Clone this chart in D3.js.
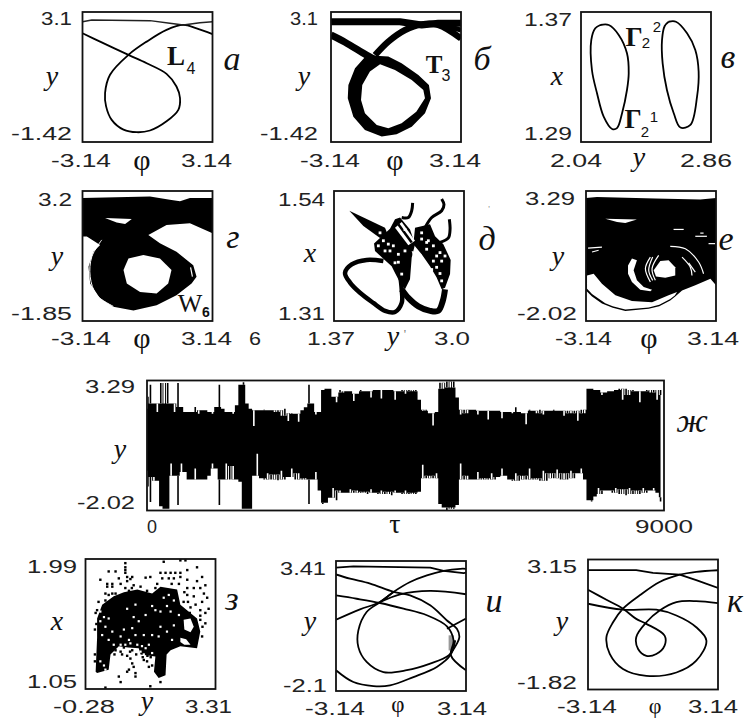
<!DOCTYPE html>
<html lang="en">

<head>
  <meta charset="utf-8">
  <script src="https://d3js.org/d3.v7.min.js"></script>
  <style>
    body {
      margin: 0;
      background: #fff;
    }

    svg {
      display: block;
    }
  </style>
</head>

<body>
  <svg></svg>

  <script>
    // --- values, always in axis units ---

    // a: phase portrait, limit cycle L4 (phi, y)
    var cycleL4Loop = [[-3.14, 2.36], [-2.29, 2.07], [-0.92, 1.61], [-0.04, 1.32], [0.92, 0.95], [1.40, 0.51], [1.57, 0.11], [1.49, -0.30], [0.92, -0.70], [0.12, -1.02], [-0.52, -1.08], [-1.16, -0.99], [-1.73, -0.65], [-2.0, -0.18], [-2.05, 0.28], [-1.81, 0.92], [-0.92, 1.61], [-0.04, 2.07], [0.92, 2.48], [1.73, 2.65], [2.37, 2.53], [3.14, 2.33]];
    var cycleL4Top = [[-3.14, 2.76], [-2.69, 2.82], [0.12, 2.80], [1.08, 2.71], [1.73, 2.65], [2.53, 2.73], [3.14, 2.76]];

    // b: torus T3
    var torusOuter = [[-1.42, 1.60], [-1.98, 1.14], [-2.30, 0.56], [-2.33, 0.10], [-2.06, -0.54], [-1.50, -1.0], [-0.69, -1.23], [0.03, -1.15], [0.76, -0.89], [1.40, -0.42], [1.69, 0.10], [1.59, 0.56], [1.08, 0.91], [0.27, 1.32], [-0.37, 1.55]];
    var torusInner = [[-0.77, 1.28], [-1.26, 1.03], [-1.63, 0.56], [-1.69, 0.04], [-1.50, -0.42], [-0.93, -0.83], [-0.37, -0.94], [0.27, -0.77], [0.98, -0.37], [1.40, 0.10], [1.32, 0.39], [0.76, 0.74], [-0.05, 1.08]];
    var torusTailLeft = [[-3.14, 2.30], [-2.46, 2.05], [-1.42, 1.60], [-0.9, 1.4]];
    var torusTailRight = [[-1.01, 1.60], [-0.37, 2.07], [0.43, 2.47], [1.24, 2.67], [2.04, 2.65], [3.14, 2.18]];
    var torusTailRight2 = [[2.04, 2.71], [3.14, 2.47]];
    var torusTop = [[-3.14, 2.76], [0.19, 2.76], [1.24, 2.65], [2.04, 2.71], [3.14, 2.71]];

    // v: two parts of cycle Gamma2 (y, x)
    var gammaOne = [[2.162, 1.362], [2.215, 1.362], [2.278, 1.3559], [2.330, 1.3446], [2.341, 1.3323], [2.330, 1.322], [2.299, 1.3077], [2.267, 1.2985], [2.236, 1.298], [2.183, 1.3056], [2.141, 1.32], [2.109, 1.3343], [2.105, 1.3528], [2.130, 1.36]];
    var gammaTwo = [[2.593, 1.364], [2.639, 1.364], [2.709, 1.3569], [2.761, 1.3466], [2.782, 1.3333], [2.772, 1.3179], [2.730, 1.3005], [2.667, 1.2989], [2.625, 1.3077], [2.582, 1.322], [2.555, 1.3384], [2.551, 1.3528], [2.568, 1.3614]];

    // g: attractor W6
    var w6Outer = [[-3.14, 2.93], [0.12, 2.99], [1.08, 2.86], [1.57, 2.80], [2.05, 2.93], [3.14, 2.93], [3.14, 1.56], [2.05, 1.95], [0.92, 1.88], [0.04, 1.49], [0.60, 1.17], [1.40, 0.84], [2.21, 0.32], [2.37, -0.13], [2.13, -0.39], [1.40, -0.85], [0.44, -1.24], [-0.68, -1.44], [-1.65, -1.30], [-2.29, -0.98], [-2.77, -0.39], [-2.85, 0.26], [-2.61, 0.84], [-2.29, 1.10], [-2.93, 1.43], [-3.14, 1.43]];
    var w6Hole = [[-1.16, 0.13], [-0.92, 0.58], [-0.20, 0.71], [0.60, 0.58], [1.16, 0.13], [1.00, -0.39], [0.44, -0.78], [-0.36, -0.72], [-1.0, -0.39]];
    var w6Notch = [[-2.05, 2.15], [-0.76, 2.11], [-1.08, 1.92], [-1.49, 1.98]];
    var w6Arc = [[-2.21, 1.30], [-2.69, 0.65], [-2.77, -0.13], [-2.45, -0.85], [-1.65, -1.28]];
    var w6Slit = [[2.08, 0.23], [2.17, -0.13]];

    // d: section (y, x)
    var sectionLoopOne = [[1.989, 1.416], [1.78, 1.418], [1.592, 1.41], [1.508, 1.395], [1.571, 1.378], [1.696, 1.36], [1.863, 1.342], [2.01, 1.328], [2.135, 1.326], [2.219, 1.342], [2.219, 1.366], [2.198, 1.393]];
    var sectionLoopTwo = [[2.219, 1.366], [2.302, 1.351], [2.428, 1.336], [2.574, 1.328], [2.678, 1.328], [2.733, 1.345], [2.762, 1.366]];
    var sectionArm = [[1.562, 1.505], [2.01, 1.475], [2.051, 1.46], [1.947, 1.457], [1.738, 1.478]];
    var sectionBlobA = [[1.872, 1.447], [2.072, 1.473], [2.135, 1.49], [2.198, 1.493], [2.323, 1.472], [2.386, 1.446], [2.344, 1.422], [2.323, 1.384], [2.26, 1.366], [2.198, 1.378], [2.135, 1.395], [2.093, 1.407], [1.989, 1.42], [1.884, 1.434]];
    var sectionBlobB = [[2.386, 1.475], [2.574, 1.481], [2.637, 1.46], [2.741, 1.446], [2.833, 1.418], [2.825, 1.393], [2.762, 1.369], [2.72, 1.366], [2.657, 1.387], [2.574, 1.407], [2.469, 1.428], [2.365, 1.446]];
    var sectionSlot = [[2.135, 1.475], [2.219, 1.485], [2.386, 1.452], [2.302, 1.444]];
    var sectionStripe = [[2.177, 1.481], [2.344, 1.449]];
    var sectionGap = [[2.344, 1.434], [2.469, 1.428], [2.386, 1.413]];
    var sectionTendrils = [
      [[2.219, 1.493], [2.302, 1.493], [2.344, 1.505], [2.356, 1.519]],
      [[2.511, 1.475], [2.595, 1.493], [2.72, 1.505], [2.749, 1.516], [2.72, 1.526]],
      [[2.699, 1.449], [2.804, 1.457], [2.825, 1.472], [2.816, 1.49]]
    ];
    var sectionSpecks = [[2.219, 1.393], [2.699, 1.394], [2.616, 1.416], [2.177, 1.414], [2.532, 1.437], [2.072, 1.434], [1.989, 1.452], [1.926, 1.443], [2.699, 1.431], [2.72, 1.381], [2.553, 1.452], [2.469, 1.466], [1.947, 1.466], [2.01, 1.434], [2.051, 1.446], [2.114, 1.443], [2.177, 1.428], [2.26, 1.434], [2.135, 1.413], [2.532, 1.449], [2.616, 1.443], [2.657, 1.425], [2.72, 1.416], [2.762, 1.425], [2.595, 1.401], [2.657, 1.405], [2.26, 1.472], [2.469, 1.455]];

    // e: chaotic attractor
    var chaosOuter = [[-3.14, 3.0], [-2.61, 3.04], [0.21, 2.98], [2.38, 2.94], [3.14, 3.0], [3.14, -0.56], [2.87, -0.29], [2.14, -0.56], [1.5, -0.77], [1.2, -1.0], [0.93, -1.18], [0.4, -1.42], [-0.11, -1.52], [-1.24, -1.61], [-1.85, -1.48], [-2.37, -1.31], [-2.85, -1.02], [-3.14, -0.77]];
    var chaosCrescent = [[-3.09, -0.16], [-2.77, -0.09], [-2.37, -0.5], [-1.72, -0.97], [-0.92, -1.2], [0.05, -1.25], [0.85, -0.97], [1.26, -0.84], [1.15, -0.98], [0.93, -1.12], [0.4, -1.36], [-0.11, -1.47], [-1.24, -1.55], [-1.85, -1.42], [-2.21, -1.29], [-2.85, -0.92], [-3.09, -0.70]];
    var chaosInnerCrescent = [[-1.11, 0.25], [-0.92, 0.53], [-0.68, 0.46], [-0.84, 0.05], [-0.68, -0.36], [-0.35, -0.63], [0.05, -0.74], [-0.03, -0.8], [-0.52, -0.74], [-0.92, -0.43], [-1.11, -0.09]];
    var chaosHole = [[0.13, 0.05], [0.45, 0.43], [0.85, 0.46], [1.17, 0.18], [1.17, -0.16], [0.69, -0.25], [0.24, -0.2]];
    var chaosNotch = [[-2.21, 2.16], [-0.68, 2.13], [-1.24, 1.98], [-1.64, 2.02]];
    var chaosArcs = [
      [[-0.03, 0.59], [-0.27, 0.12], [-0.03, -0.43]],
      [[0.37, 0.66], [0.05, 0.12], [0.21, -0.36]],
      [[0.08, 0.59], [-0.11, 0.05], [0.08, -0.36]],
      [[1.5, 0.59], [1.9, 0.18], [1.98, -0.16]],
      [[1.82, 0.35], [2.14, -0.02]],
      [[0.93, 1.03], [1.66, 0.93], [2.3, 0.39], [2.54, -0.09]],
      [[1.09, 1.72], [1.58, 1.72]],
      [[2.14, 1.44], [2.7, 1.44]],
      [[2.38, 1.57], [2.54, 1.57]],
      [[2.78, 1.14], [3.11, 1.14]],
      [[-3.04, 0.96], [-2.37, 1.0]],
      [[-2.85, 0.8], [-2.53, 0.87]]
    ];

    // zh: time series, upper and lower envelope of y, one reading every tauStep
    var tauStep = 60;
    var seriesUpper = [2.14, 3.12, 2.35, 2.0, 3.19, 2.35, 3.19, 2.35, 2.0, 3.19, 2.21, 2.0, 2.0, 2.0, 2.21, 1.93, 2.07, 2.07, 2.0, 1.93, 2.21, 3.12, 2.14, 2.0, 2.0, 1.93, 2.28, 3.12, 3.22, 2.35, 2.14, 1.43, 2.07, 2.07, 2.1, 2.07, 2.07, 2.0, 2.07, 1.85, 2.14, 1.64, 1.95, 1.93, 1.6, 2.07, 2.2, 3.12, 2.35, 1.9, 2.0, 2.9, 2.95, 2.95, 2.63, 2.4, 2.9, 2.8, 2.85, 2.85, 2.45, 2.75, 2.9, 2.85, 2.85, 2.6, 2.9, 2.9, 2.55, 2.9, 2.9, 2.9, 2.5, 2.85, 2.9, 2.75, 2.9, 2.85, 2.9, 2.5, 2.05, 2.1, 1.95, 1.45, 2.0, 3.2, 2.95, 3.25, 3.0, 3.25, 2.6, 1.9, 2.1, 1.95, 2.1, 2.1, 1.9, 2.05, 2.05, 1.7, 2.05, 2.05, 2.05, 1.75, 2.0, 2.0, 1.95, 2.2, 2.0, 1.95, 1.5, 2.1, 2.05, 1.95, 2.1, 1.9, 2.05, 2.05, 2.1, 2.05, 2.05, 1.85, 2.05, 1.95, 2.05, 1.65, 2.1, 1.95, 2.95, 2.95, 2.9, 2.9, 2.7, 2.8, 2.85, 2.85, 2.9, 2.95, 2.5, 2.95, 2.7, 2.9, 2.85, 2.4, 2.85, 2.9, 2.8, 2.9, 2.5, 2.9];
    var seriesLower = [-0.4, -1.67, -0.65, -0.8, -1.85, -1.95, -1.95, -0.1, -0.6, -1.8, -0.1, -0.45, -0.75, -0.75, -0.3, -0.75, -0.75, -0.75, -0.6, -0.1, -0.3, -1.8, -0.75, -0.1, -0.75, -0.2, -0.75, -0.85, -1.95, -1.95, -1.95, -0.6, 0.3, -0.7, -0.75, -0.5, -0.75, -0.55, -0.78, -0.4, -0.75, -0.65, -0.3, -0.75, -0.5, -0.75, -0.7, -1.75, -0.75, -0.45, -1.2, -1.75, -1.7, -1.5, -1.1, -1.6, -1.2, -1.3, -1.3, -1.15, -1.3, -1.2, -1.3, -1.25, -1.35, -1.15, -1.3, -1.35, -1.2, -1.35, -1.25, -1.4, -1.2, -1.3, -1.35, -1.2, -1.35, -1.3, -1.35, -1.25, -0.15, -0.7, -0.6, -0.7, -0.5, -1.75, -1.9, -2.0, -1.9, -1.95, -1.8, -0.1, -0.75, -0.6, -0.75, -0.75, -0.45, -0.75, -0.7, -0.75, -0.5, -0.75, -0.65, -0.3, -0.6, -0.75, -0.8, -0.5, -0.8, -0.6, -0.75, -0.3, -0.75, -0.7, -0.8, -0.4, -0.8, -0.5, -0.7, -0.35, -0.75, -0.5, -0.75, -0.4, -0.7, -0.5, -0.3, -0.75, -1.6, -1.65, -1.45, -1.1, -1.35, -1.2, -1.2, -1.3, -1.1, -1.35, -1.15, -1.4, -1.1, -1.35, -1.2, -1.35, -1.1, -1.3, -1.2, -1.1, -1.3, -1.65];

    // z: cloud (y, x)
    var cloudBody = [[0, 1.175], [0.04, 1.42], [0.04, 1.56], [0.18, 1.66], [0.5, 1.72], [0.78, 1.75], [1.15, 1.77], [1.56, 1.74], [1.79, 1.79], [2.25, 1.77], [2.34, 1.66], [2.8, 1.56], [2.89, 1.465], [2.8, 1.345], [2.34, 1.36], [2.07, 1.33], [1.96, 1.30], [1.93, 1.15], [1.74, 1.13], [1.61, 1.175], [1.65, 1.285], [1.24, 1.30], [1.19, 1.345], [0.9, 1.35], [0.64, 1.36], [0.41, 1.30], [0.36, 1.19], [0.04, 1.165]];
    var cloudHoleOne = [[2.43, 1.55], [2.62, 1.56], [2.71, 1.50], [2.62, 1.46], [2.45, 1.48]];
    var cloudHoleTwo = [[2.34, 1.42], [2.5, 1.41], [2.62, 1.37], [2.45, 1.37], [2.34, 1.39]];
    var cloudDots = [[0.82, 1.96], [0.82, 1.93], [0.82, 1.91], [0.82, 1.89], [0.87, 1.86], [1.01, 1.86], [0.87, 1.83], [0.96, 1.845], [1.88, 1.97], [2.34, 1.98], [2.48, 1.98], [2.8, 1.93], [2.53, 1.91], [0.36, 1.90], [0.55, 1.90], [0.13, 1.84], [0.32, 1.81], [0.46, 1.81], [0.32, 1.79], [0.46, 1.79], [0.64, 1.85], [0.82, 1.78], [1.05, 1.80], [1.38, 1.855], [1.51, 1.86], [1.79, 1.89], [1.93, 1.89], [2.07, 1.89], [2.2, 1.89], [2.34, 1.89], [1.84, 1.85], [2.02, 1.85], [2.16, 1.85], [2.34, 1.86], [2.53, 1.84], [2.8, 1.83], [2.94, 1.86], [3.03, 1.80], [2.89, 1.78], [2.71, 1.78], [2.53, 1.78], [2.99, 1.74], [3.08, 1.71], [2.94, 1.68], [2.71, 1.72], [2.53, 1.73], [3.12, 1.63], [3.03, 1.6], [2.89, 1.62], [2.76, 1.66], [3.03, 1.525], [2.89, 1.55], [0.69, 1.81], [0.55, 1.74], [0.27, 1.74], [0.69, 1.32], [0.73, 1.3], [0.96, 1.27], [1.01, 1.235], [0.92, 1.19], [1.05, 1.21], [1.1, 1.165], [0.64, 1.14], [0.69, 1.10], [0.27, 1.06], [1.33, 1.26], [1.42, 1.25], [1.56, 1.22], [1.47, 1.21], [1.1, 1.14], [1.51, 1.07], [1.79, 1.10], [0.87, 1.175], [0.36, 1.73], [0.46, 1.74], [0.92, 1.76], [1.0, 1.78], [1.24, 1.79], [1.42, 1.76], [1.65, 1.78], [1.7, 1.81], [2.1, 1.81], [2.3, 1.81], [2.45, 1.75], [2.55, 1.68], [2.62, 1.64], [2.43, 1.68], [2.89, 1.58], [2.95, 1.5], [2.94, 1.43], [2.45, 1.6], [2.6, 1.6], [0.0, 1.6], [0.02, 1.52], [-0.02, 1.48], [0.08, 1.68], [0.27, 1.69], [-0.02, 1.3], [-0.02, 1.25], [0.04, 1.62], [0.95, 1.32], [0.78, 1.35], [0.87, 1.29], [1.01, 1.33], [1.12, 1.3], [1.3, 1.28], [1.43, 1.29], [1.52, 1.28], [0.52, 1.3], [0.55, 1.33]];
    var cloudSpecks = [[0.13, 1.61], [0.23, 1.57], [0.13, 1.54], [0.36, 1.56], [0.27, 1.50], [0.46, 1.465], [0.18, 1.44], [0.36, 1.405], [0.5, 1.37], [0.87, 1.63], [1.1, 1.66], [1.05, 1.57], [1.19, 1.54], [1.38, 1.585], [0.78, 1.48], [1.01, 1.49], [1.1, 1.44], [1.33, 1.44], [0.69, 1.43], [0.92, 1.405], [1.56, 1.65], [1.65, 1.62], [1.79, 1.61], [1.97, 1.65], [2.07, 1.61], [1.88, 1.71], [2.02, 1.73], [2.16, 1.69], [2.3, 1.585], [2.16, 1.51], [1.97, 1.465], [1.56, 1.44], [1.74, 1.43], [0.13, 1.25], [0.23, 1.22], [0.27, 1.19], [0.69, 1.37], [0.82, 1.37], [0.96, 1.38], [1.15, 1.37], [1.24, 1.32], [1.33, 1.3], [1.38, 1.345], [1.47, 1.37], [1.56, 1.31], [1.28, 1.36], [2.11, 1.405], [1.79, 1.50]];

    // i: phase portrait
    var portraitILoop = [[-3.14, 0.92], [-1.98, 1.36], [-1.01, 1.67], [-0.36, 2.10], [0.44, 2.52], [1.25, 2.80], [2.06, 2.99], [2.86, 3.08], [3.14, 3.08]];
    var portraitIMain = [[-0.36, 2.10], [-1.01, 1.67], [-1.66, 1.25], [-2.06, 0.47], [-2.06, -0.24], [-1.66, -0.87], [-0.85, -1.30], [0.28, -1.22], [1.41, -0.94], [2.30, -0.59], [2.70, -0.09], [2.82, 0.19], [2.70, 0.54], [2.22, 0.89], [1.41, 1.53], [0.44, 1.95], [-0.36, 2.10], [-1.49, 2.45], [-2.46, 2.66], [-3.14, 2.84]];
    var portraitISecond = [[-3.14, 1.95], [-2.14, 1.81], [-1.01, 1.63], [0.12, 1.39], [1.25, 1.11], [2.22, 0.64], [2.54, 0.05], [2.41, -0.59], [3.14, -1.22]];
    var portraitIThird = [[-3.14, -1.22], [-2.30, -1.72], [-1.33, -1.89], [-0.53, -1.86], [0.60, -1.51], [1.73, -1.08], [2.38, -0.59], [2.62, 0.05]];
    var portraitIArc = [[-1.01, 1.67], [-0.04, 2.0], [1.41, 2.14], [3.14, 2.0]];
    var portraitIExit = [[2.22, 0.54], [3.14, 0.97]];
    var portraitITop = [[-3.14, 3.13], [-2.30, 3.18], [1.41, 3.13], [2.06, 2.99], [3.03, 2.90], [3.14, 2.92]];
    var portraitISliver = [[2.30, 0.26], [2.54, 0.26], [2.54, -0.38], [2.30, -0.38]];

    // k: phase portrait
    var portraitKInner = [[-3.14, 1.99], [-2.25, 1.61], [-1.45, 1.27], [-0.81, 0.88], [-0.32, 0.69], [0.56, 0.24], [0.56, -0.14], [0.16, -0.46], [-0.32, -0.53], [-0.72, -0.27], [-0.81, 0.18], [-0.32, 0.75], [0.32, 1.20], [1.13, 1.52], [2.09, 1.56], [3.14, 1.48]];
    var portraitKOuter = [[-3.14, 1.46], [-1.45, 1.23], [0.16, 1.23], [1.13, 1.01], [2.09, 0.56], [2.58, 0.05], [2.09, -0.72], [1.13, -1.17], [-0.32, -1.30], [-1.45, -1.04], [-2.09, -0.46], [-2.25, 0.18], [-1.93, 0.75], [-1.45, 1.27], [-0.64, 1.78], [0.32, 2.29], [1.29, 2.57], [2.09, 2.68], [3.14, 2.74]];
    var portraitKTop = [[-3.14, 2.74], [-0.81, 2.74], [-0.0, 2.64], [1.29, 2.57], [2.09, 2.36], [3.14, 2.06]];

    // --- page ---

    var width = 745,
      height = 719,
      frameSize = 130;

    var svg = d3.select('svg')
      .attr('width', width)
      .attr('height', height);

    var monoFont = '"Liberation Sans", sans-serif';
    var serifFont = '"Liberation Serif", serif';

    var clipCount = 0;

    function makePanel(left, top, xDomain, yDomain, w) {
      w = w || frameSize;
      var h = frameSize;
      clipCount += 1;
      var id = 'frame' + clipCount;
      svg.append('clipPath').attr('id', id)
        .append('rect').attr('x', left).attr('y', top).attr('width', w).attr('height', h);
      return {
        x: d3.scaleLinear().domain(xDomain).range([left, left + w]),
        y: d3.scaleLinear().domain(yDomain).range([top + h, top]),
        g: svg.append('g').attr('clip-path', 'url(#' + id + ')'),
        left: left,
        top: top,
        w: w,
        h: h
      };
    }

    function drawBorder(p) {
      svg.append('rect')
        .attr('x', p.left).attr('y', p.top)
        .attr('width', p.w).attr('height', p.h)
        .attr('fill', 'none')
        .attr('stroke', '#111')
        .attr('stroke-width', 1.8);
    }

    function drawCurve(p, pts, strokeWidth, color, curve) {
      var line = d3.line()
        .x(function (d) { return p.x(d[0]); })
        .y(function (d) { return p.y(d[1]); })
        .curve(curve || d3.curveCatmullRom);
      p.g.append('path')
        .attr('d', line(pts))
        .attr('fill', 'none')
        .attr('stroke', color || '#000')
        .attr('stroke-width', strokeWidth)
        .attr('stroke-linejoin', 'round');
    }

    function drawFill(p, rings, color, curve) {
      var line = d3.line()
        .x(function (d) { return p.x(d[0]); })
        .y(function (d) { return p.y(d[1]); })
        .curve(curve || d3.curveLinearClosed);
      var path = rings.map(function (r) { return line(r); }).join(' ');
      p.g.append('path')
        .attr('d', path)
        .attr('fill', color || '#000')
        .attr('fill-rule', 'evenodd');
    }

    function drawDots(p, pts, size, color) {
      p.g.selectAll(null)
        .data(pts)
        .enter().append('rect')
        .attr('x', function (d) { return p.x(d[0]) - size / 2; })
        .attr('y', function (d) { return p.y(d[1]) - size / 2; })
        .attr('width', size)
        .attr('height', size)
        .attr('fill', color);
    }

    // tick labels in the scan are stretched sideways, so fit them to a width
    function tick(txt, x1, x2, base) {
      svg.append('text')
        .attr('x', x1).attr('y', base)
        .attr('textLength', x2 - x1)
        .attr('lengthAdjust', 'spacingAndGlyphs')
        .attr('font-family', monoFont)
        .attr('font-size', 18)
        .attr('fill', '#222')
        .text(txt);
    }

    function label(txt, x, base, size, opts) {
      opts = opts || {};
      svg.append('text')
        .attr('x', x).attr('y', base)
        .attr('text-anchor', opts.anchor || 'middle')
        .attr('font-family', opts.sans ? monoFont : serifFont)
        .attr('font-style', opts.upright ? 'normal' : 'italic')
        .attr('font-weight', opts.bold ? 'bold' : 'normal')
        .attr('font-size', size)
        .attr('fill', opts.color || '#111')
        .text(txt);
    }

    var phi = [-3.14, 3.14];
    var closed = d3.curveCatmullRomClosed;

    // a
    var pa = makePanel(82.5, 12, phi, [-1.42, 3.1]);
    drawCurve(pa, cycleL4Loop, 1.8);
    drawCurve(pa, cycleL4Top, 1.5, '#222', d3.curveLinear);
    drawBorder(pa);

    // b
    var pb = makePanel(331, 12, phi, [-1.42, 3.1]);
    drawFill(pb, [torusOuter, torusInner], '#000', closed);
    drawCurve(pb, torusTailLeft, 7);
    drawCurve(pb, torusTailRight, 6.5);
    drawCurve(pb, torusTailRight2, 5);
    drawCurve(pb, torusTop, 7, '#000', d3.curveLinear);
    drawBorder(pb);

    // v
    var pv = makePanel(581, 12, [2.04, 2.86], [1.29, 1.37]);
    drawCurve(pv, gammaOne.concat([gammaOne[0]]), 1.8, '#000', closed);
    drawCurve(pv, gammaTwo.concat([gammaTwo[0]]), 1.8, '#000', closed);
    drawBorder(pv);

    // g
    var pg = makePanel(82.5, 191, phi, [-1.85, 3.2]);
    drawFill(pg, [w6Outer]);
    drawFill(pg, [w6Hole], '#fff', closed);
    drawFill(pg, [w6Notch], '#fff');
    drawCurve(pg, w6Arc, 1, '#fff');
    drawCurve(pg, w6Slit, 1.2, '#fff', d3.curveLinear);
    drawBorder(pg);

    // d
    var pd = makePanel(334, 191, [1.37, 3.0], [1.31, 1.54]);
    drawCurve(pd, sectionLoopOne, 4.5);
    drawCurve(pd, sectionLoopTwo, 6);
    drawFill(pd, [sectionArm]);
    drawFill(pd, [sectionBlobA]);
    drawFill(pd, [sectionBlobB]);
    drawFill(pd, [sectionSlot], '#fff');
    drawFill(pd, [sectionGap], '#fff');
    drawCurve(pd, sectionStripe, 2.5, '#000', d3.curveLinear);
    sectionTendrils.forEach(function (t) { drawCurve(pd, t, 3); });
    drawDots(pd, sectionSpecks, 2.8, '#fff');
    drawBorder(pd);

    // e
    var pe = makePanel(586, 191, phi, [-2.02, 3.29]);
    drawFill(pe, [chaosOuter]);
    drawFill(pe, [chaosCrescent], '#fff');
    drawFill(pe, [chaosInnerCrescent], '#fff');
    drawFill(pe, [chaosHole], '#fff', closed);
    drawFill(pe, [chaosNotch], '#fff');
    chaosArcs.forEach(function (t) { drawCurve(pe, t, 1.2, '#fff'); });
    drawBorder(pe);

    // zh: solid body from the running median, lone spikes and slits drawn thin on top
    var pz = makePanel(147, 380.5, [0, 9000], [-2.02, 3.29], 517);

    function runningMedian(arr) {
      return arr.map(function (v, i) {
        return d3.median(arr.slice(Math.max(0, i - 1), i + 2));
      });
    }

    var upperBody = runningMedian(seriesUpper);
    var lowerBody = runningMedian(seriesLower);

    var band = d3.area()
      .x(function (d, i) { return pz.x(i * tauStep); })
      .y0(function (d) { return pz.y(d[0]); })
      .y1(function (d) { return pz.y(d[1]); })
      .curve(d3.curveStep);
    pz.g.append('path')
      .attr('d', band(d3.zip(lowerBody, upperBody)))
      .attr('fill', '#000');

    function drawSpikes(values, body, outward) {
      pz.g.selectAll(null)
        .data(values.map(function (v, i) { return { i: i, v: v, b: body[i] }; })
          .filter(function (d) { return d.v !== d.b; }))
        .enter().append('line')
        .attr('x1', function (d) { return pz.x(d.i * tauStep); })
        .attr('x2', function (d) { return pz.x(d.i * tauStep); })
        .attr('y1', function (d) { return pz.y(d.v); })
        .attr('y2', function (d) { return pz.y(d.b); })
        .attr('stroke-width', 1.6)
        .attr('stroke', function (d) {
          return (d.v - d.b) * outward > 0 ? '#000' : '#fff';
        });
    }
    drawSpikes(seriesUpper, upperBody, 1);
    drawSpikes(seriesLower, lowerBody, -1);
    drawBorder(pz);

    // z
    var pc = makePanel(85.5, 559, [-0.28, 3.31], [1.05, 1.99]);
    drawFill(pc, [cloudBody]);
    drawFill(pc, [cloudHoleOne], '#fff', closed);
    drawFill(pc, [cloudHoleTwo], '#fff', closed);
    drawDots(pc, cloudDots, 2.4, '#000');
    drawDots(pc, cloudSpecks, 2.2, '#fff');
    drawBorder(pc);

    // i
    var pi = makePanel(336, 561, phi, [-2.1, 3.41]);
    drawFill(pi, [portraitISliver], '#999');
    drawCurve(pi, portraitILoop, 1.8);
    drawCurve(pi, portraitIMain, 1.8);
    drawCurve(pi, portraitISecond, 1.8);
    drawCurve(pi, portraitIThird, 1.8);
    drawCurve(pi, portraitIArc, 1.8);
    drawCurve(pi, portraitIExit, 1.8);
    drawCurve(pi, portraitITop, 1.8, '#000', d3.curveLinear);
    drawBorder(pi);

    // k
    var pk = makePanel(588, 559.5, phi, [-1.82, 3.15]);
    drawCurve(pk, portraitKInner, 1.8);
    drawCurve(pk, portraitKOuter, 1.8);
    drawCurve(pk, portraitKTop, 1.8, '#000', d3.curveLinear);
    drawBorder(pk);

    // --- tick labels ---
    tick('3.1', 41, 72, 25); tick('-1.42', 11, 72, 140);
    tick('-3.14', 51, 111, 167); tick('3.14', 181, 232, 167);
    tick('3.1', 290, 318, 25); tick('-1.42', 260, 318, 140);
    tick('-3.14', 300, 360, 167); tick('3.14', 429, 481, 167);
    tick('1.37', 524, 572, 26); tick('1.29', 524, 572, 140);
    tick('2.04', 550, 602, 167); tick('2.86', 680, 732, 167);

    tick('3.2', 38, 72, 206); tick('-1.85', 11, 72, 320);
    tick('-3.14', 51, 111, 345); tick('3.14', 181, 232, 345);
    tick('6', 249, 261, 345);
    tick('1.54', 278, 325, 206); tick('1.31', 278, 325, 320);
    tick('1.37', 307, 355, 345); tick('3.0', 434, 470, 345);
    tick('3.29', 525, 575, 205); tick('-2.02', 517, 577, 320);
    tick('-3.14', 555, 612, 345); tick('3.14', 687, 739, 345);

    tick('3.29', 85, 135, 393); tick('-2.02', 77, 135, 509);
    tick('0', 147, 157, 533); tick('9000', 635, 693, 533);

    tick('1.99', 27, 77, 573); tick('1.05', 27, 77, 688);
    tick('-0.28', 53, 115, 713); tick('3.31', 185, 232, 713);
    tick('3.41', 280, 326, 575); tick('-2.1', 283, 327, 692);
    tick('-3.14', 305, 365, 715); tick('3.14', 437, 487, 715);
    tick('3.15', 527, 577, 573); tick('-1.82', 517, 577, 689);
    tick('-3.14', 557, 617, 713); tick('3.14', 688, 738, 713);

    // --- axis names ---
    var axisSize = 28;
    [[142, 170], [395, 170], [142, 348], [649, 348]].forEach(function (d) {
      label('φ', d[0], d[1], 30, { upright: true });
    });
    label('φ', 398, 712, 23, { upright: true });
    label('φ', 655, 713, 22, { upright: true });
    [[52, 85], [304, 85], [57, 265], [558, 265], [120, 458], [310, 630], [562, 630]].forEach(function (d) {
      label('y', d[0], d[1], axisSize);
    });
    [[557, 85], [310, 262], [57, 630]].forEach(function (d) {
      label('x', d[0], d[1], axisSize);
    });
    label('y', 639, 166, axisSize);
    label('y', 393, 345, axisSize);
    label('y', 147, 710, axisSize);
    label('\'', 405, 338, 13, { color: '#777', upright: true });
    label('\'', 489, 212, 9, { color: '#888', upright: true });
    label('τ', 395, 533, 28, { upright: true });

    // --- panel letters ---
    var letterSize = 34;
    label('а', 232, 70, letterSize);
    label('б', 482, 70, letterSize);
    label('в', 728, 68, letterSize);
    label('г', 233, 248, letterSize);
    label('д', 487, 250, letterSize);
    label('е', 726, 250, letterSize);
    label('ж', 692, 432, letterSize);
    label('з', 232, 610, letterSize);
    label('и', 494, 612, letterSize);
    label('к', 735, 612, letterSize);

    // --- names of the attractors ---
    label('L', 176, 65, 27, { upright: true, bold: true });
    label('4', 191, 74, 16, { upright: true, sans: true });
    label('T', 434, 73, 25, { upright: true, bold: true });
    label('3', 446, 81, 16, { upright: true, sans: true });
    label('Γ', 634, 46, 27, { upright: true, bold: true });
    label('2', 646, 48, 15, { upright: true, sans: true });
    label('2', 657, 32, 15, { upright: true, sans: true });
    label('Γ', 633, 128, 27, { upright: true, bold: true });
    label('2', 645, 137, 15, { upright: true, sans: true });
    label('1', 654, 122, 15, { upright: true, sans: true });
    label('W', 190, 312, 26, { upright: true });
    label('6', 206, 317, 14, { upright: true, sans: true, bold: true });
  </script>
</body>

</html>
